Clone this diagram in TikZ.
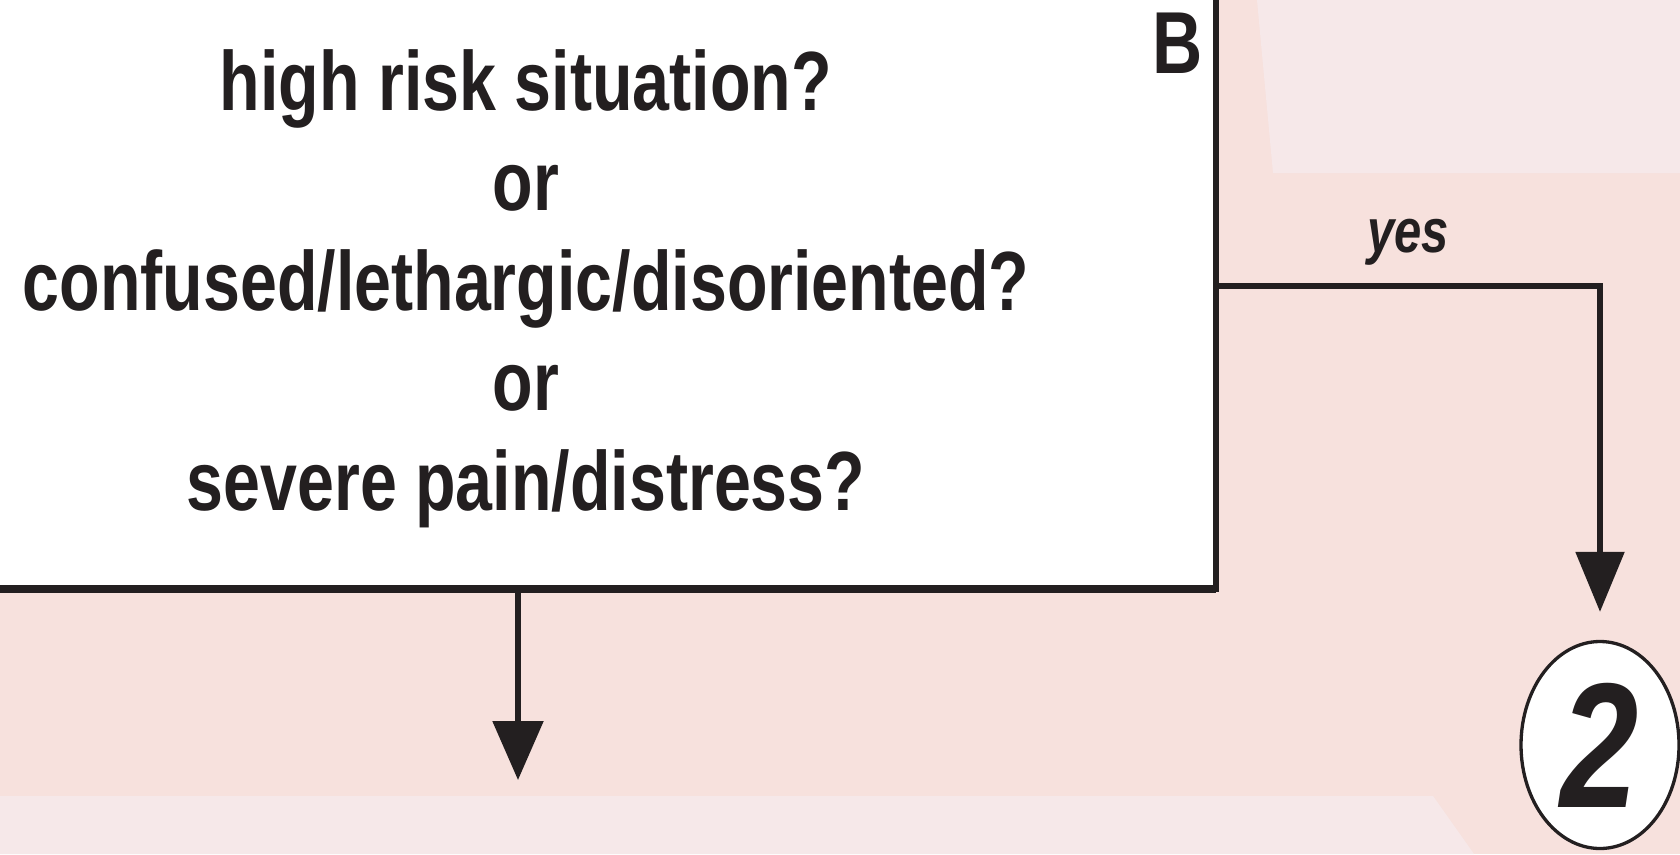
\documentclass[tikz,border=0pt]{standalone}
\usepackage{fontspec}
\usetikzlibrary{arrows.meta,shapes.geometric}
\newfontfamily\condfont[FakeStretch=0.79]{Liberation Sans}
\definecolor{bgpink}{RGB}{247,225,221}
\definecolor{lightpink}{RGB}{246,232,233}
\definecolor{ink}{RGB}{35,31,32}

\begin{document}
\begin{tikzpicture}[
		x=1pt,y=-1pt,
		qline/.style={anchor=base,text=ink,font=\condfont\bfseries\fontsize{84}{100}\selectfont},
		flow/.style={draw=ink,line width=5.5pt,-{Triangle[width=48pt,length=60pt]}},
		answer/.style={text=ink,font=\condfont\bfseries\itshape\fontsize{62}{62}\selectfont}
		]
		\useasboundingbox[fill=bgpink] (0,0) rectangle (1680,854);
		\fill[lightpink] (1257,0) -- (1273,173) -- (1680,173) -- (1680,0) -- cycle;
		\fill[lightpink] (0,796) -- (1433,796) -- (1474,854) -- (0,854) -- cycle;
		
		\node[draw=ink,fill=white,line width=5.7pt,outer sep=0pt,minimum width=1256pt,minimum height=629pt] (qbox) at (588,274.5) {};
		\draw[ink,line width=8.5pt] (qbox.south west) -- (qbox.south east);
		\node[text=ink,font=\condfont\bfseries\fontsize{88}{100}\selectfont] (tag) at (1178,43) {B};
		\foreach \txt [count=\i] in {high risk situation?,or,confused/lethargic/disoriented?,or,severe pain/distress?} {
			\node[qline] (line\i) at (526,10+100*\i) {\txt};
		}
		
		\node[ellipse,draw=ink,fill=white,line width=3.3pt,inner sep=0pt,minimum width=158pt,minimum height=207pt,text=ink,font=\condfont\bfseries\itshape\fontsize{178}{178}\selectfont] (two) at (1600,745) {2};
		
		\coordinate (yesrow) at (0,286);
		\coordinate (next) at (518,780);
		\draw[flow] (qbox.east |- yesrow) -| ([yshift=28pt]two.north) node[answer,pos=0.25,above,yshift=15pt] (yes) {yes};
		\draw[flow,-{Triangle[width=50pt,length=59pt]}] (qbox.south -| next) -- (next);
	\end{tikzpicture}
\end{document}
